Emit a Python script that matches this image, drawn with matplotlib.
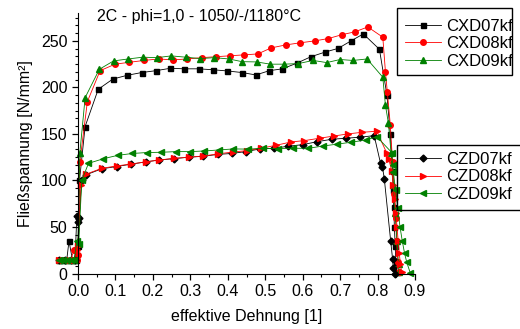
import matplotlib
matplotlib.use('Agg')
import matplotlib.pyplot as plt
from matplotlib.patches import Rectangle
from matplotlib.ticker import MultipleLocator, AutoMinorLocator

plt.rcParams['font.family'] = ['Liberation Sans', 'DejaVu Sans']

# CX-Proben (obere Kurven)
cxd07_x = [-0.05, -0.04, -0.03, -0.024, -0.015, -0.005, 0.0, 0.004, 0.019, 0.054, 0.093, 0.131, 0.17, 0.208,
           0.247, 0.284, 0.322, 0.36, 0.399, 0.438, 0.475, 0.511, 0.546, 0.584, 0.622, 0.66, 0.695, 0.729,
           0.762, 0.805, 0.825, 0.834, 0.840, 0.842, 0.843, 0.845, 0.847, 0.849, 0.851]
cxd07_y = [15, 15, 15, 35, 15, 15, 30, 100, 158, 198, 209, 213, 216, 218,
           220.6, 220, 220, 219, 217.7, 216, 213.4, 218, 220, 226, 233, 238, 242, 250,
           257.5, 241, 192, 150, 110, 90, 72, 50, 30, 12, 2]

cxd08_x = [-0.05, -0.035, -0.02, -0.01, -0.003, 0.0, 0.005, 0.025, 0.059, 0.099, 0.137, 0.176, 0.215, 0.253,
           0.291, 0.33, 0.368, 0.406, 0.443, 0.48, 0.516, 0.555, 0.594, 0.632, 0.668, 0.706, 0.739, 0.774,
           0.814, 0.821, 0.826, 0.834, 0.840, 0.845, 0.848, 0.851, 0.854, 0.856]
cxd08_y = [15, 15, 15, 25, 15, 20, 120, 184.7, 218, 225, 227, 229, 230.6, 229.6,
           230.6, 232, 233, 234, 235, 236, 242.5, 245.7, 248, 250, 252.5, 256.8, 259.7, 265,
           254, 217, 195.5, 160, 120, 85, 60, 35, 12, 2]

cxd09_x = [-0.05, -0.04, -0.03, -0.02, -0.01, 0.0, 0.005, 0.019, 0.057, 0.095, 0.134, 0.173, 0.211, 0.249,
           0.288, 0.326, 0.364, 0.403, 0.438, 0.477, 0.514, 0.55, 0.588, 0.628, 0.664, 0.7, 0.734, 0.772,
           0.814, 0.821, 0.829, 0.836, 0.842, 0.847, 0.852, 0.856, 0.858]
cxd09_y = [15, 15, 15, 15, 15, 35, 130, 189, 219.5, 228.5, 230.6, 232.5, 232, 233.9,
           232.5, 231, 232, 230.6, 227.7, 227.4, 225, 225, 225.6, 229, 226.7, 230, 229, 230.6,
           211, 181, 161.5, 130, 95, 65, 35, 10, 2]

# CZ-Proben (untere Kurven)
czd07_x = [-0.05, -0.035, -0.02, -0.008, -0.003, 0.0, 0.003, 0.01, 0.021, 0.063, 0.103, 0.142, 0.181, 0.217,
           0.257, 0.296, 0.335, 0.373, 0.41, 0.448, 0.486, 0.523, 0.562, 0.6, 0.639, 0.678, 0.716, 0.753,
           0.791, 0.808, 0.813, 0.818, 0.835, 0.84, 0.842, 0.846]
czd07_y = [15, 15, 15, 15, 62, 55, 60, 100, 106, 112.5, 115, 117.5, 120, 122,
           123.5, 125, 126, 128, 129, 131, 133.9, 134.6, 136.8, 138.5, 141.7, 144.3, 145.4, 146.5,
           148.2, 118.4, 114.8, 102, 35, 16, 5.6, 0]

czd08_x = [-0.05, -0.04, -0.025, -0.01, -0.002, 0.0, 0.008, 0.021, 0.063, 0.103, 0.142, 0.181, 0.217, 0.257,
           0.296, 0.335, 0.373, 0.413, 0.45, 0.488, 0.529, 0.569, 0.604, 0.645, 0.684, 0.72, 0.759, 0.798,
           0.824, 0.83, 0.838, 0.842, 0.846, 0.849, 0.852, 0.855, 0.858, 0.861, 0.864]
czd08_y = [15, 15, 15, 15, 25, 30, 95, 106.7, 113, 115.6, 117.7, 120, 122, 123.8,
           125, 126.3, 128.5, 130.6, 132, 134.6, 137.8, 141.4, 142.8, 145.4, 147.8, 150, 151.8, 152.9,
           130, 122.8, 110, 95, 80, 65, 50, 35, 22, 10, 2]

czd09_x = [-0.05, -0.04, -0.03, -0.02, -0.01, -0.003, 0.002, 0.01, 0.028, 0.068, 0.106, 0.145, 0.183, 0.222,
           0.261, 0.299, 0.337, 0.376, 0.415, 0.455, 0.495, 0.535, 0.575, 0.615, 0.654, 0.691, 0.728, 0.768,
           0.798, 0.838, 0.84, 0.842, 0.848, 0.854, 0.86, 0.866, 0.872, 0.878, 0.887]
czd09_y = [15, 15, 15, 15, 15, 35, 32, 100, 118.4, 123.4, 127, 129, 130, 130.3,
           131, 131, 131.7, 132.8, 133.9, 133.7, 134.6, 134.2, 134.6, 134.6, 137, 139, 141, 143.5,
           147, 130, 116.7, 109.5, 90, 70, 50, 35, 22, 12, 1]

W, H = 520, 329
fig = plt.figure(figsize=(W / 100, H / 100), dpi=100)
ax = fig.add_axes([78 / W, 55.5 / H, 337 / W, 260.5 / H])

def kurve(x, y, farbe, marker, ms, label):
    line, = ax.plot(x, y, color=farbe, lw=0.6, marker=marker, ms=ms, mfc=farbe, mec=farbe,
                    label=label, clip_on=False)
    return line

h1 = [kurve(cxd07_x, cxd07_y, 'black', 's', 3.6, 'CXD07kf'),
      kurve(cxd08_x, cxd08_y, 'red', 'o', 4.0, 'CXD08kf'),
      kurve(cxd09_x, cxd09_y, 'green', '^', 4.5, 'CXD09kf')]
h2 = [kurve(czd07_x, czd07_y, 'black', 'D', 3.5, 'CZD07kf'),
      kurve(czd08_x, czd08_y, 'red', '>', 4.5, 'CZD08kf'),
      kurve(czd09_x, czd09_y, 'green', '<', 4.5, 'CZD09kf')]

# Achsen
ax.set_xlim(0, 0.9)
ax.set_ylim(0, 280)
ax.spines['top'].set_visible(False)
ax.spines['right'].set_visible(False)
ax.xaxis.set_major_locator(MultipleLocator(0.1))
ax.xaxis.set_minor_locator(AutoMinorLocator(2))
ax.yaxis.set_major_locator(MultipleLocator(50))
ax.yaxis.set_minor_locator(AutoMinorLocator(6))
ax.tick_params(which='major', direction='out', length=4, width=0.9, labelsize=11.5)
ax.tick_params(which='minor', direction='out', length=2.5, width=0.8)
ax.xaxis.set_major_formatter(plt.FormatStrFormatter('%.1f'))
ax.set_xlabel('effektive Dehnung [1]', fontsize=11.5, labelpad=7)
ax.set_ylabel('Fließspannung [N/mm²]', fontsize=11.5, labelpad=6)

fig.text(97 / W, 1 - 17 / H, '2C - phi=1,0 - 1050/-/1180°C', fontsize=11.5, va='center', ha='left')

# zwei Legenden, Rahmen separat gezeichnet
opts = dict(loc='upper left', frameon=False, fontsize=12, handlelength=2.15,
            labelspacing=0.14, borderpad=0, handletextpad=0.3, borderaxespad=0)
fig.legend(handles=h1, bbox_to_anchor=(405 / W, 1 - 19 / H), **opts)
fig.legend(handles=h2, bbox_to_anchor=(405 / W, 1 - 152 / H), **opts)
fig.patches.append(Rectangle((397 / W, 1 - 75 / H), 115 / W, 67 / H, transform=fig.transFigure,
                             fill=False, edgecolor='black', lw=1.0))
fig.patches.append(Rectangle((397 / W, 1 - 210 / H), 126 / W, 65 / H, transform=fig.transFigure,
                             fill=False, edgecolor='black', lw=1.0))

fig.savefig('out.png', dpi=100)
